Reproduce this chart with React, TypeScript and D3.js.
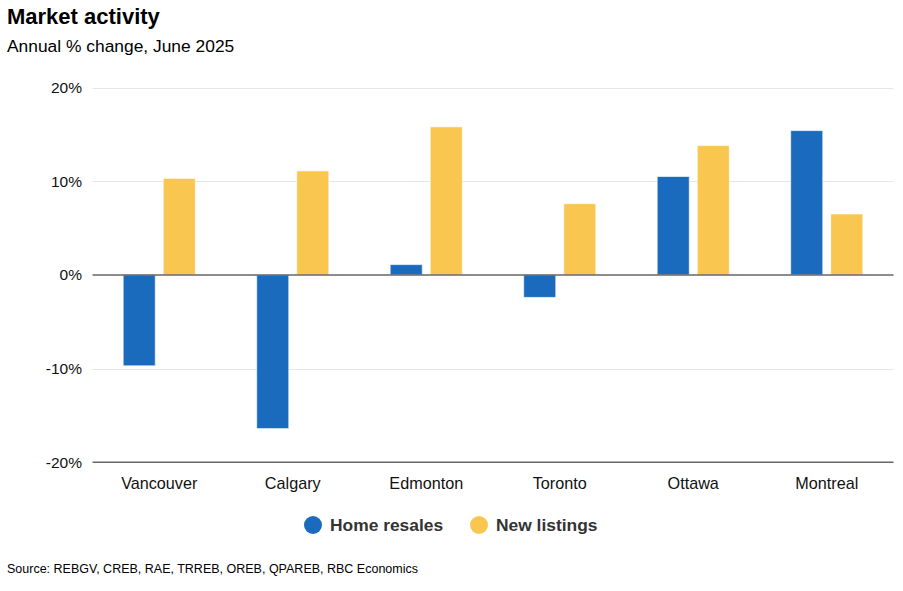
import React, { useEffect, useRef } from "react";
import * as d3 from "d3";

// Annual % change by market, June 2025
const cities = ["Vancouver", "Calgary", "Edmonton", "Toronto", "Ottawa", "Montreal"];
const homeResales = [-9.7, -16.4, 1.1, -2.4, 10.5, 15.4];
const newListings = [10.3, 11.1, 15.8, 7.6, 13.8, 6.5];
const seriesNames = ["Home resales", "New listings"];
const seriesColors = ["#1a6bbd", "#f9c74f"];
const yTicks = [-20, -10, 0, 10, 20];

const App = () => {
  const svgRef = useRef<SVGSVGElement>(null);

  useEffect(() => {
    const width = 903;
    const height = 591;
    const font = "'Liberation Sans', Arial, sans-serif";

    const svg = d3.select(svgRef.current).attr("width", width).attr("height", height);
    svg.selectAll("*").remove();

    // Title block
    svg
      .append("text")
      .attr("x", 7)
      .attr("y", 24)
      .attr("font-family", font)
      .attr("font-size", 22)
      .attr("font-weight", "bold")
      .attr("fill", "#000")
      .text("Market activity");
    svg
      .append("text")
      .attr("x", 7)
      .attr("y", 52)
      .attr("font-family", font)
      .attr("font-size", 17.4)
      .attr("fill", "#000")
      .text("Annual % change, June 2025");

    // Scales
    const left = 92.5;
    const right = 893.5;
    const yScale = d3.scaleLinear().domain([-20, 20]).range([462.3, 87.5]);
    const x0 = d3.scaleBand().domain(cities).range([left, right]).padding(0);
    const bw = x0.bandwidth();
    const x1 = d3
      .scaleBand()
      .domain(seriesNames)
      .range([bw * 0.2, bw * 0.8])
      .paddingInner(0.2)
      .paddingOuter(0.1);

    // Grid lines
    svg
      .append("g")
      .selectAll("line")
      .data(yTicks.filter((t) => t !== 0 && t !== -20))
      .enter()
      .append("line")
      .attr("x1", left)
      .attr("x2", right)
      .attr("y1", (d) => Math.round(yScale(d)) + 0.5)
      .attr("y2", (d) => Math.round(yScale(d)) + 0.5)
      .attr("stroke", "#e6e6e6")
      .attr("stroke-width", 1);

    // Y tick labels
    svg
      .append("g")
      .selectAll("text")
      .data(yTicks)
      .enter()
      .append("text")
      .attr("x", 82)
      .attr("y", (d) => yScale(d))
      .attr("dy", "0.36em")
      .attr("text-anchor", "end")
      .attr("font-family", font)
      .attr("font-size", 15.5)
      .attr("fill", "#111")
      .text((d) => `${d}%`);

    // Bars
    const rows = cities.map((c, i) => ({ city: c, values: [homeResales[i], newListings[i]] }));
    const groups = svg
      .append("g")
      .selectAll("g")
      .data(rows)
      .enter()
      .append("g")
      .attr("transform", (d) => `translate(${x0(d.city)},0)`);

    groups
      .selectAll("rect")
      .data((d) => d.values.map((v, j) => ({ name: seriesNames[j], value: v, color: seriesColors[j] })))
      .enter()
      .append("rect")
      .attr("x", (d) => x1(d.name)!)
      .attr("y", (d) => yScale(Math.max(0, d.value)))
      .attr("width", x1.bandwidth())
      .attr("height", (d) => Math.abs(yScale(d.value) - yScale(0)))
      .attr("fill", (d) => d.color)
      .attr("stroke", "rgba(255,255,255,0.6)")
      .attr("stroke-width", 1);

    // Zero line and bottom axis line
    [0, -20].forEach((t) => {
      svg
        .append("line")
        .attr("x1", left)
        .attr("x2", right)
        .attr("y1", yScale(t))
        .attr("y2", yScale(t))
        .attr("stroke", "#666")
        .attr("stroke-width", 1.5);
    });

    // Category labels
    svg
      .append("g")
      .selectAll("text")
      .data(cities)
      .enter()
      .append("text")
      .attr("x", (d) => x0(d)! + bw / 2)
      .attr("y", 489)
      .attr("text-anchor", "middle")
      .attr("font-family", font)
      .attr("font-size", 16.2)
      .attr("fill", "#111")
      .text((d) => d);

    // Legend
    const legendX = [313, 479];
    const legend = svg
      .append("g")
      .selectAll("g")
      .data(seriesNames)
      .enter()
      .append("g")
      .attr("transform", (d, i) => `translate(${legendX[i]},525)`);
    legend
      .append("circle")
      .attr("r", 9)
      .attr("fill", (d, i) => seriesColors[i]);
    legend
      .append("text")
      .attr("x", 17)
      .attr("dy", "0.36em")
      .attr("font-family", font)
      .attr("font-size", 17.4)
      .attr("font-weight", "bold")
      .attr("fill", "#333")
      .text((d) => d);

    // Source note
    svg
      .append("text")
      .attr("x", 7)
      .attr("y", 573)
      .attr("font-family", font)
      .attr("font-size", 12.5)
      .attr("fill", "#000")
      .text("Source: REBGV, CREB, RAE, TRREB, OREB, QPAREB, RBC Economics");
  }, []);

  return (
    <div style={{ position: "absolute", left: 0, top: 0 }}>
      <svg ref={svgRef}></svg>
    </div>
  );
};

export default App;
